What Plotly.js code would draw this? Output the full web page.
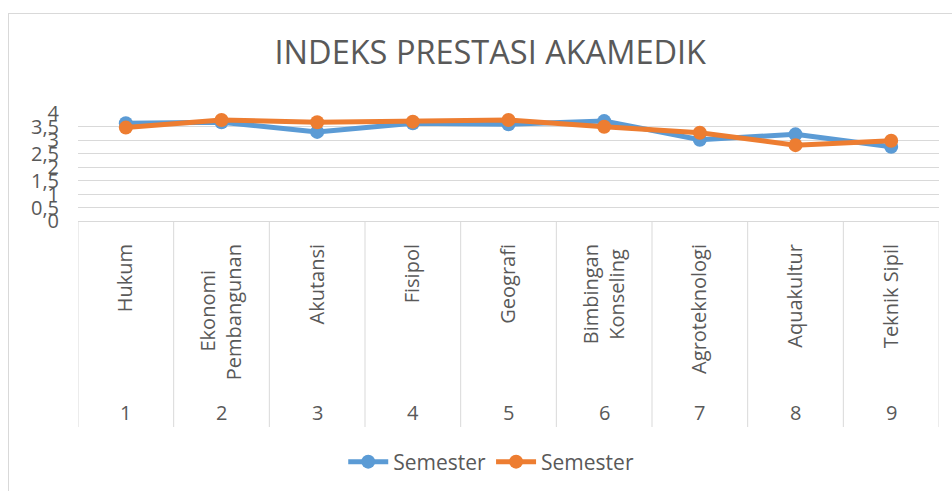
<!DOCTYPE html>
<html>
<head>
<meta charset="utf-8">
<script src="https://cdn.plot.ly/plotly-3.0.1.min.js"></script>
<style>
  html, body { margin: 0; padding: 0; background: #fff; }
  #wrap { position: relative; width: 952px; height: 491px; overflow: hidden; }
  #chart { position: absolute; left: 0; top: 0; width: 952px; height: 491px; }
  #frame { position: absolute; left: 8px; top: 13px; width: 980px; height: 520px;
           border: 1.5px solid #D9D9D9; pointer-events: none; box-sizing: border-box; }
</style>
</head>
<body>
<div id="wrap"><div id="chart"></div><div id="frame"></div></div>
<script>
// ---- data ----
const NB = "\u00A0";
const categories = ["Hukum", "Ekonomi" + NB.repeat(5) + "<br>Pembangunan", "Akutansi", "Fisipol", "Geografi",
                    "Bimbingan<br>Konseling" + NB, "Agroteknologi", "Aquakultur", "Teknik Sipil"];
const numbers = ["1", "2", "3", "4", "5", "6", "7", "8", "9"];
const semesterA = [3.62, 3.66, 3.30, 3.62, 3.58, 3.70, 3.01, 3.21, 2.75];
const semesterB = [3.46, 3.74, 3.66, 3.68, 3.74, 3.49, 3.27, 2.81, 2.97];
const seriesNames = ["Semester", "Semester"];
const yTicks = [0, 0.5, 1, 1.5, 2, 2.5, 3, 3.5, 4];

const grey = "#595959";
const font = "Open Sans, sans-serif";

const traces = [
  { x: categories, y: semesterA, name: seriesNames[0], type: "scatter", mode: "lines+markers",
    line: { color: "#5B9BD5", width: 5 }, marker: { color: "#5B9BD5", size: 14 } },
  { x: categories, y: semesterB, name: seriesNames[1], type: "scatter", mode: "lines+markers",
    line: { color: "#ED7D31", width: 5 }, marker: { color: "#ED7D31", size: 14 } }
];

const plotH = 108; // px height of plot area
const shapes = [];
for (let i = 0; i <= categories.length; i++) {
  shapes.push({ type: "line", xref: "x", yref: "paper", x0: i - 0.5, x1: i - 0.5,
    y0: 0, y1: -(206 / plotH), line: { color: "#D9D9D9", width: 1 } });
}
const annotations = numbers.map((n, i) => ({
  x: categories[i], xref: "x", y: -(191 / plotH), yref: "paper",
  text: n, showarrow: false, yanchor: "middle", xanchor: "center",
  font: { family: font, size: 20, color: grey }
}));

const layout = {
  width: 952, height: 491,
  margin: { l: 78, r: 13, t: 113, b: 270, pad: 0 },
  paper_bgcolor: "#fff", plot_bgcolor: "#fff",
  separators: ",.",
  font: { family: font, color: grey },
  title: { text: "INDEKS PRESTASI AKAMEDIK", font: { family: font, size: 32.5, color: grey },
    xref: "container", x: 0.515, xanchor: "center", yref: "container", y: 1 - 53 / 491, yanchor: "middle" },
  xaxis: { type: "category", range: [-0.5, 8.5], tickangle: -90, showgrid: false,
    showline: true, linecolor: "#D9D9D9", linewidth: 1, zeroline: false,
    ticks: "", ticklabelstandoff: 14, tickfont: { family: font, size: 20, color: grey },
    fixedrange: true },
  yaxis: { range: [0, 4], tickvals: yTicks, showgrid: true, gridcolor: "#D9D9D9", gridwidth: 1,
    zeroline: false, showline: false, ticks: "", ticklabelstandoff: 18,
    tickfont: { family: font, size: 20, color: grey }, fixedrange: true },
  showlegend: true,
  legend: { orientation: "h", xref: "container", x: 0.516, xanchor: "center",
    yref: "container", y: 29 / 491, yanchor: "middle",
    font: { family: font, size: 21, color: grey }, itemwidth: 40 },
  shapes: shapes,
  annotations: annotations
};

Plotly.newPlot("chart", traces, layout, { displayModeBar: false, staticPlot: true });
</script>
</body>
</html>
